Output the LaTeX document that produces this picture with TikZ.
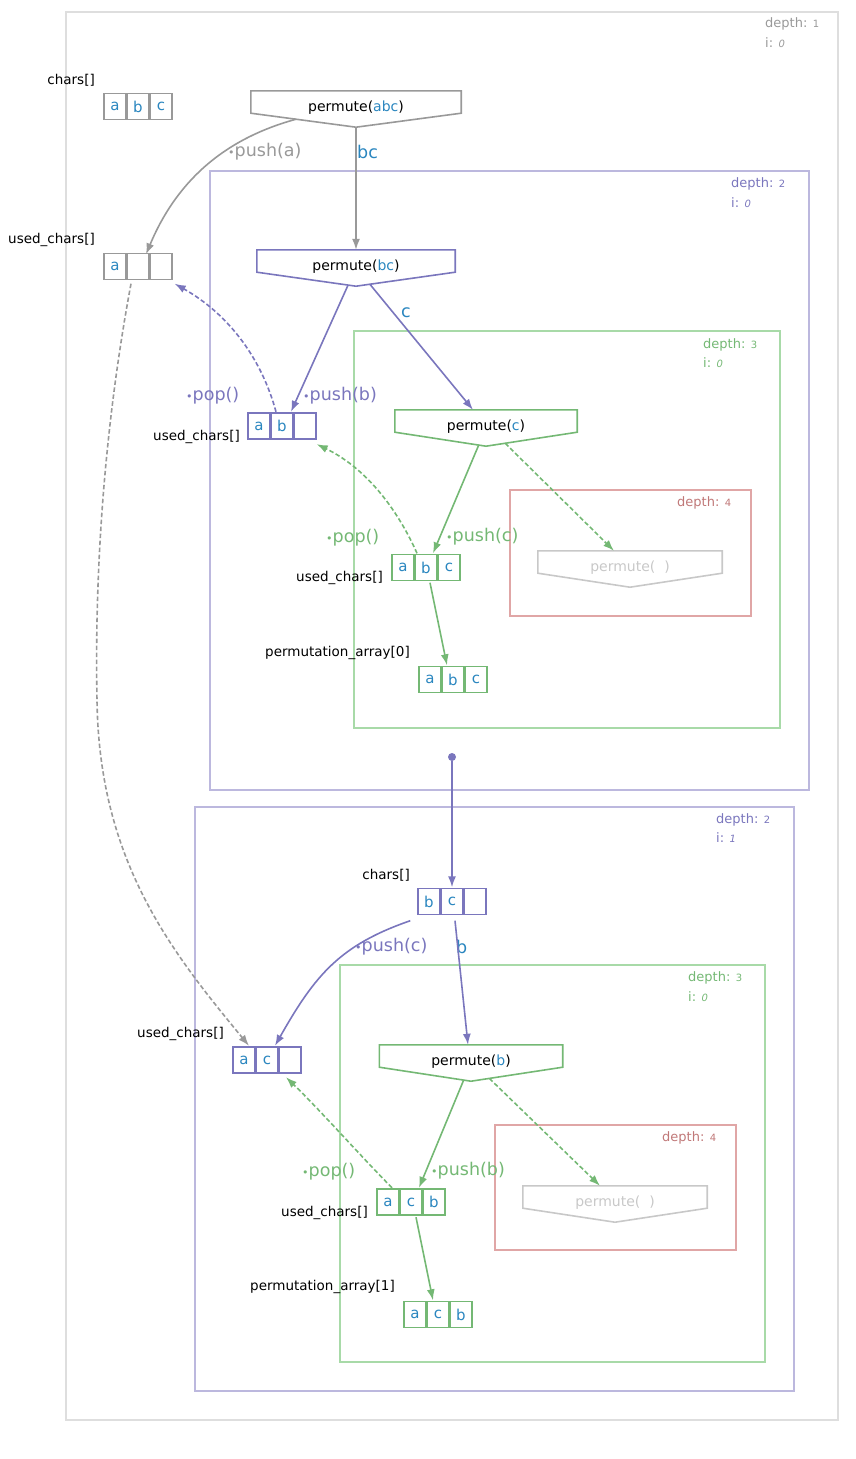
\documentclass[tikz,border=0pt]{standalone}
\usepackage{fontspec}
\setmainfont{DejaVu Sans}
\usetikzlibrary{calc,arrows.meta}
\definecolor{cgray}{HTML}{999999}
\definecolor{cframe}{HTML}{DEDEDE}
\definecolor{cpur}{HTML}{7A76BD}
\definecolor{cpurl}{HTML}{BCB8DE}
\definecolor{cgrn}{HTML}{74B874}
\definecolor{cgrnl}{HTML}{A8DAA8}
\definecolor{cred}{HTML}{E0A6A6}
\definecolor{credt}{HTML}{C07878}
\definecolor{cblue}{HTML}{2A86BF}
\definecolor{clgray}{HTML}{C8C8C8}
\tikzset{
  cell/.style={draw, line width=1.7pt, minimum width=21.5pt, minimum height=26pt, inner sep=0pt,
    text=cblue, font=\fontsize{15}{15}\selectfont},
  permtxt/.style={minimum height=22pt, inner sep=0pt, text height=18pt, text depth=0pt,
    font=\fontsize{14}{14}\selectfont},
  lbl/.style={anchor=east, inner sep=0pt, font=\fontsize{13.5}{14}\selectfont},
  oplbl/.style={inner sep=0pt, font=\fontsize{17.5}{17.5}\selectfont},
  dlbl/.style={anchor=west, inner sep=0pt, font=\fontsize{13}{13}\selectfont},
  frame/.style={line width=1.6pt},
  conn/.style={line width=1.6pt, -{Latex[length=11pt,width=8pt]}},
  dconn/.style={conn, dash pattern=on 4.5pt off 2.5pt},
}
\newcommand\arrnode[7]{%
  \node[cell,draw=#4] (#1-1) at (#2-23,#3) {#5};
  \node[cell,draw=#4] (#1-2) at (#2,#3) {#6};
  \node[cell,draw=#4] (#1-3) at (#2+23,#3) {#7};
  \node[inner sep=0pt, minimum width=69pt, minimum height=28pt] (#1) at (#2,#3) {};
}
\newcommand\permnode[6]{%
  \node[permtxt, minimum width=#4pt] (#1) at (#2,#3) {#6};
  \draw[#5, line width=1.6pt] (#1.north west) -- (#1.north east) -- (#1.south east)
     -- ([yshift=-14pt]#1.south) -- (#1.south west) -- cycle;
  \coordinate (#1-tip) at ([yshift=-14pt]#1.south);
}
\newcommand\opdot{{\fontsize{11}{11}\selectfont •}}
\newcommand\dnum[1]{{\fontsize{10}{10}\selectfont #1}}
\begin{document}
\begin{tikzpicture}[x=1pt,y=-1pt]
\useasboundingbox (0,0) rectangle (855,1459);

% frames
\draw[frame,cframe] (66,12) rectangle (838,1420);
\node[dlbl,text=cgray] (d1a) at (765,24) {depth: \dnum{1}};
\node[dlbl,text=cgray] (d1b) at (765,43) {i: \dnum{\itshape 0}};

\draw[frame,cpurl] (210,171) rectangle (809,790);
\node[dlbl,text=cpur] (d2a) at (731,184) {depth: \dnum{2}};
\node[dlbl,text=cpur] (d2b) at (731,203) {i: \dnum{\itshape 0}};

\draw[frame,cgrnl] (354,331) rectangle (780,728);
\node[dlbl,text=cgrn] (d3a) at (703,345) {depth: \dnum{3}};
\node[dlbl,text=cgrn] (d3b) at (703,363) {i: \dnum{\itshape 0}};

\draw[frame,cred] (510,490) rectangle (751,616);
\node[dlbl,text=credt] (d4a) at (677,503) {depth: \dnum{4}};

\draw[frame,cpurl] (195,807) rectangle (794,1391);
\node[dlbl,text=cpur] (d2c) at (716,820) {depth: \dnum{2}};
\node[dlbl,text=cpur] (d2d) at (716,838) {i: \dnum{\itshape 1}};

\draw[frame,cgrnl] (340,965) rectangle (765,1362);
\node[dlbl,text=cgrn] (d3c) at (688,978) {depth: \dnum{3}};
\node[dlbl,text=cgrn] (d3d) at (688,997) {i: \dnum{\itshape 0}};

\draw[frame,cred] (495,1125) rectangle (736,1250);
\node[dlbl,text=credt] (d4b) at (662,1138) {depth: \dnum{4}};

% arrays and labels
\node[lbl] (l1) at (95,80) {chars[]};
\arrnode{c1}{138}{106.5}{cgray}{a}{b}{c}
\node[lbl] (l2) at (95,240) {used\_chars[]};
\arrnode{u1}{138}{266.5}{cgray}{a}{}{}
\node[lbl] (l3) at (240,437) {used\_chars[]};
\arrnode{u2}{282}{426}{cpur}{a}{b}{}
\node[lbl] (l4) at (383,578) {used\_chars[]};
\arrnode{u3}{426}{567.5}{cgrn}{a}{b}{c}
\node[lbl] (l5) at (410,653) {permutation\_array[0]};
\arrnode{pa0}{453}{679.5}{cgrn}{a}{b}{c}
\node[lbl] (l6) at (410,875) {chars[]};
\arrnode{c2}{452}{901.5}{cpur}{b}{c}{}
\node[lbl] (l7) at (224,1034) {used\_chars[]};
\arrnode{u4}{267}{1060}{cpur}{a}{c}{}
\node[lbl] (l8) at (368,1213) {used\_chars[]};
\arrnode{u5}{411}{1202}{cgrn}{a}{c}{b}
\node[lbl] (l9) at (395,1287) {permutation\_array[1]};
\arrnode{pa1}{438}{1314.5}{cgrn}{a}{c}{b}

% permute nodes
\permnode{p1}{356}{102}{210}{cgray}{permute(\textcolor{cblue}{abc})}
\permnode{p2}{356}{261}{198}{cpur}{permute(\textcolor{cblue}{bc})}
\permnode{p3}{486}{421}{182}{cgrn}{permute(\textcolor{cblue}{c})}
\permnode{p4}{630}{562}{184}{clgray}{\textcolor{clgray}{permute(\ \ )}}
\permnode{p5}{471}{1056}{183}{cgrn}{permute(\textcolor{cblue}{b})}
\permnode{p6}{615}{1197}{184}{clgray}{\textcolor{clgray}{permute(\ \ )}}

% dot
\node[circle, fill=cpur, inner sep=0pt, minimum size=8pt] (dot) at (452,757) {};

% operation labels
\node[oplbl,text=cgray,anchor=west] (o1) at (228,152) {\opdot push(a)};
\node[oplbl,text=cpur,anchor=west] (o2) at (186,396) {\opdot pop()};
\node[oplbl,text=cpur,anchor=west] (o3) at (303,396) {\opdot push(b)};
\node[oplbl,text=cgrn,anchor=west] (o4) at (326,538) {\opdot pop()};
\node[oplbl,text=cgrn,anchor=west] (o5) at (446,537) {\opdot push(c)};
\node[oplbl,text=cpur,anchor=west] (o6) at (355,947) {\opdot push(c)};
\node[oplbl,text=cgrn,anchor=west] (o7) at (302,1172) {\opdot pop()};
\node[oplbl,text=cgrn,anchor=west] (o8) at (431,1171) {\opdot push(b)};

% argument labels
\node[oplbl,text=cblue,anchor=west] (a1) at (357,152) {bc};
\node[oplbl,text=cblue,anchor=west] (a2) at (401,313) {c};
\node[oplbl,text=cblue,anchor=west] (a3) at (456,947) {b};

% connectors
\draw[conn,cgray] (p1-tip) -- (p2.north);
\draw[conn,cgray] ($(p1-tip)!0.57!(p1.south west)$) .. controls (220,140) and (175,185) .. ([xshift=8pt,yshift=-2pt]u1.north);
\draw[conn,cpur] ($(p2-tip)!0.08!(p2.south west)$) -- ([xshift=9pt]u2.north);
\draw[conn,cpur] ($(p2-tip)!0.14!(p2.south east)$) -- ([xshift=-13pt]p3.north);
\draw[dconn,cpur] ([xshift=-6pt]u2.north) .. controls (262,360) and (230,315) .. ([shift={(2pt,-3pt)}]u1.south east);
\draw[conn,cgrn] ($(p3-tip)!0.08!(p3.south west)$) -- ([xshift=7pt]u3.north);
\draw[dconn,cgrn] ($(p3-tip)!0.21!(p3.south east)$) -- ([xshift=-16pt]p4.north);
\draw[dconn,cgrn] ([xshift=-9pt]u3.north) .. controls (400,515) and (370,470) .. ([yshift=-4pt]u2.south east);
\draw[conn,cgrn] ([xshift=4pt,yshift=-1pt]u3.south) -- ([xshift=-6pt]pa0.north);
\draw[conn,cpur] (dot) -- (c2.north);
\draw[conn,cpur] ([shift={(-7pt,-5pt)}]c2.south west) .. controls (340,945) and (315,975) .. ([xshift=8pt]u4.north);
\draw[conn,cpur] ([xshift=3pt,yshift=-5pt]c2.south) -- ([xshift=-3pt]p5.north);
\draw[dconn,cgray] ([xshift=-7pt,yshift=-3pt]u1.south) .. controls (100,450) and (95,600) .. (97,700)
   .. controls (99,860) and (170,950) .. ([xshift=-18pt]u4.north);
\draw[conn,cgrn] ($(p5-tip)!0.08!(p5.south west)$) -- ([xshift=8pt]u5.north);
\draw[dconn,cgrn] ($(p5-tip)!0.2!(p5.south east)$) -- ([xshift=-15pt]p6.north);
\draw[dconn,cgrn] ([xshift=-19pt]u5.north) .. controls (355,1150) and (320,1110) .. ([xshift=19pt,yshift=-3pt]u4.south);
\draw[conn,cgrn] ([xshift=5pt,yshift=-1pt]u5.south) -- ([xshift=-5pt]pa1.north);
\end{tikzpicture}
\end{document}
